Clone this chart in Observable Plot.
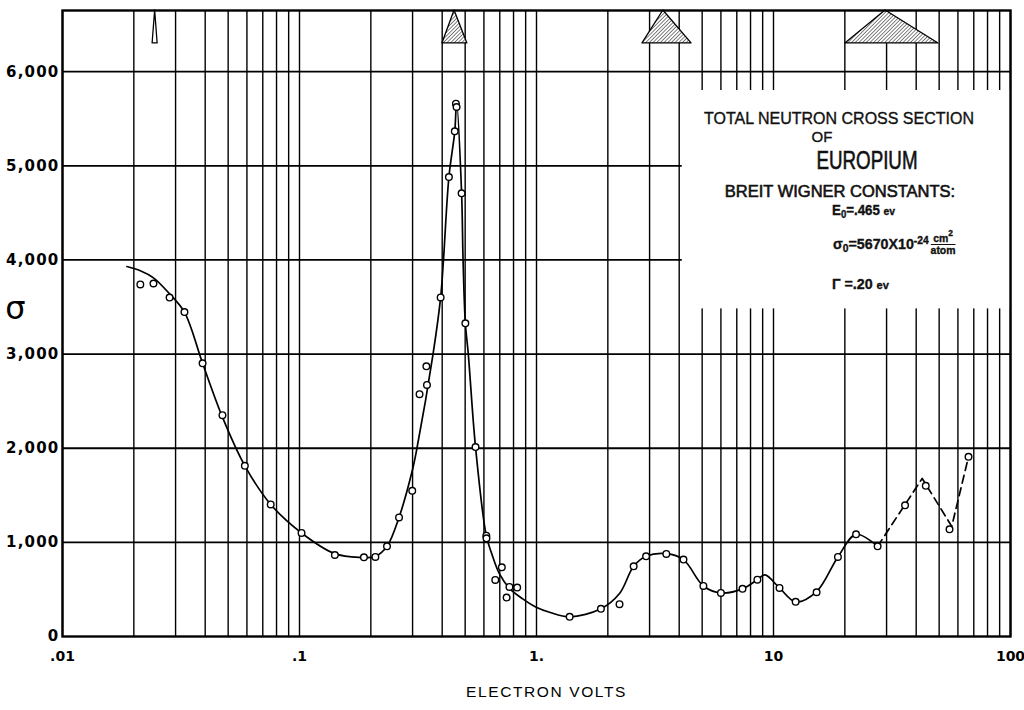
<!DOCTYPE html>
<html><head><meta charset="utf-8">
<script src="https://cdn.jsdelivr.net/npm/d3@7"></script>
<script src="https://cdn.jsdelivr.net/npm/@observablehq/plot@0.6"></script>
<style>
body{margin:0;background:#fff;}
#wrap{position:relative;width:1024px;height:710px;overflow:hidden;}
#note{position:absolute;left:0;top:0;width:1024px;height:710px;pointer-events:none;font-family:"Liberation Sans",sans-serif;color:#111;-webkit-text-stroke:0.35px #111;}
#note > div{position:absolute;white-space:nowrap;line-height:1;}
.ctr{transform:translateX(-50%);}
.eu{transform:translateX(-50%) scaleX(0.75);-webkit-text-stroke:0.6px #111;}
.cond{transform-origin:0 0;transform:scaleX(0.95);}
.sub{font-size:0.72em;position:relative;top:0.28em;}
.sup{font-size:0.72em;position:relative;top:-0.5em;}
.sm{font-size:0.78em;}
.frac{display:inline-block;vertical-align:top;position:relative;top:-3px;font-size:11px;line-height:1;text-align:center;margin-left:2px;}
.frac .num{display:block;border-bottom:1.5px solid #111;padding:0 1px 0 1px;}
.frac .num sup{font-size:0.8em;line-height:0;position:relative;top:-1px;}
.frac .den{display:block;}
</style></head><body>
<div id="wrap"><div id="chart"></div>
<div id="note">
 <div class="ctr" style="left:839px;top:111px;font-size:16px;">TOTAL NEUTRON CROSS SECTION</div>
 <div class="ctr" style="left:822px;top:129px;font-size:15px;">OF</div>
 <div class="eu" style="left:867px;top:148px;font-size:25px;">EUROPIUM</div>
 <div class="ctr" style="left:840px;top:183px;font-size:16.5px;-webkit-text-stroke:0.6px #111;">BREIT WIGNER CONSTANTS:</div>
 <div class="cond" style="left:832px;top:203px;font-size:14px;font-weight:bold;">E<span class="sub">0</span>=.465 <span class="sm">ev</span></div>
 <div class="cond" style="left:833px;top:236px;font-size:15px;font-weight:bold;">σ<span class="sub">0</span>=5670X10<span class="sup">-24</span><span class="frac"><span class="num">cm<sup>2</sup></span><span class="den">atom</span></span></div>
 <div class="cond" style="left:832px;top:276px;font-size:15px;font-weight:bold;">Γ =.20 <span class="sm">ev</span></div>
</div>
</div>
<script>
// ---- data ----
const pointEnergy = [0.0213,0.0242,0.0283,0.0327,0.039,0.0473,0.0588,0.0756,0.102,0.141,0.187,0.209,0.234,0.263,0.299,0.321,0.345,0.343,0.394,0.427,0.452,0.457,0.460,0.483,0.501,0.553,0.614,0.615,0.670,0.714,0.748,0.769,0.829,1.38,1.87,2.24,2.57,2.90,3.53,4.17,5.06,6.0,7.4,8.55,10.6,12.4,15.2,18.7,22.3,27.5,35.9,43.9,55.3,66.5];
const pointSigma  = [3740,3750,3600,3446,2902,2351,1813,1403,1100,866,841,845,958,1265,1548,2574,2672,2870,3602,4881,5366,5660,5625,4708,3327,2012,1071,1043,601,735,414,527,520,209,294,343,746,852,877,817,537,463,506,604,516,368,470,845,1085,958,1393,1601,1138,1909];

const curveEnergy = [0.0187,0.0213,0.0242,0.0283,0.0327,0.039,0.0473,0.0588,0.0756,0.102,0.141,0.18,0.209,0.234,0.263,0.299,0.313,0.366,0.394,0.405,0.427,0.452,0.460,0.483,0.490,0.501,0.5155,0.553,0.614,0.648,0.698,0.769,0.875,0.997,1.135,1.38,1.87,2.24,2.57,2.90,3.53,4.17,5.06,6.0,7.4,8.55,9.2,10.6,12.4,15.2,18.7,22.3,27.5];
const curveSigma  = [3930,3885,3810,3640,3446,2902,2330,1813,1403,1100,880,840,850,958,1265,1760,2000,3000,3602,4000,4881,5366,5670,4708,4000,3327,3000,2012,1071,877,665,512,400,311,258,209,294,456,746,852,880,817,537,463,506,604,654,516,368,477,845,1085,958];

const dashEnergy = [27.5,42.4,56.5,66.5];
const dashSigma  = [958,1679,1170,1909];

// resolution triangles (energy at left base, apex, right base)
const triLeft  = [0.0240,0.401,2.80,20.1];
const triApex  = [0.0246,0.451,3.43,29.7];
const triRight = [0.0252,0.511,4.51,49.7];

const xTickValues = [0.01,0.1,1,10,100];
const xTickLabels = [".01",".1","1.","10","100"];
const yTickValues = [0,1000,2000,3000,4000,5000,6000];
const yLabel = "σ";
const xLabel = "ELECTRON VOLTS";

// ---- build tables ----
const points = pointEnergy.map((e,i)=>({e, s: pointSigma[i]}));
const curve = curveEnergy.map((e,i)=>({e, s: curveSigma[i]}));
const dash = dashEnergy.map((e,i)=>({e, s: dashSigma[i]}));
const triBase = 6300, triTop = 6650;
const tris = [];
triApex.forEach((a,i)=>{
  tris.push({id:i, e:triLeft[i], s:triBase});
  tris.push({id:i, e:a, s:triTop});
  tris.push({id:i, e:triRight[i], s:triBase});
});
const gridX = [];
[0.01,0.1,1,10].forEach(d=>{ for(let k=1;k<=9;k++) gridX.push(d*k); });
gridX.push(100);
const noteBox = [{x1:4.12, x2:100, y1:3480, y2:5800}];

const plot = Plot.plot({
  width: 1024, height: 710,
  marginLeft: 62, marginRight: 14, marginTop: 10, marginBottom: 74,
  style: {fontFamily: "DejaVu Sans", fontSize: "15px", fontWeight: "bold", background: "white", color: "black"},
  x: {type: "log", domain: [0.01, 100]},
  y: {domain: [0, 6650]},
  marks: [
    Plot.ruleX(gridX, {stroke: "black", strokeWidth: 1.4}),
    Plot.ruleY(yTickValues.filter(v=>v>0), {stroke: "black", strokeWidth: 1.8}),
    Plot.rect(noteBox, {x1:"x1", x2:"x2", y1:"y1", y2:"y2", fill:"white"}),
    Plot.areaY(tris.filter(d=>d.id===0), {x:"e", y1: triBase, y2:"s", z:"id", fill:"white", stroke:"black", strokeWidth:1.3}),
    Plot.areaY(tris.filter(d=>d.id>0), {x:"e", y1: triBase, y2:"s", z:"id", fill:"url(#hatch)", stroke:"black", strokeWidth:1.3}),
    Plot.line(curve, {x:"e", y:"s", curve:"catmull-rom", stroke:"black", strokeWidth:1.7}),
    Plot.line(dash, {x:"e", y:"s", stroke:"black", strokeWidth:1.7, strokeDasharray:"8,5"}),
    Plot.dot(points, {x:"e", y:"s", r:3.3, fill:"white", stroke:"black", strokeWidth:1.4}),
    Plot.frame({stroke:"black", strokeWidth:2.4}),
    Plot.axisX({ticks: xTickValues, tickFormat: d => xTickLabels[xTickValues.indexOf(d)], tickSize: 0, tickPadding: 15, label: null, fontWeight: "bold", fontSize: 14}),
    Plot.axisY({ticks: yTickValues, tickFormat: d3.format(","), tickSize: 0, tickPadding: 3, label: null, fontWeight: "bold"}),
    Plot.text([yLabel], {frameAnchor:"left", dx:-47, dy:-15, textAnchor:"middle", fontSize:32, fontWeight:"normal", fontFamily:"DejaVu Sans"}),
    Plot.text([xLabel], {frameAnchor:"bottom", dx:10, dy:60, textAnchor:"middle", fontSize:15.5, fontWeight:"normal", fontFamily:"Liberation Sans"})
  ]
});

const svg = plot;
const defs = d3.select(svg).insert("defs", ":first-child");
const pat = defs.append("pattern").attr("id","hatch").attr("patternUnits","userSpaceOnUse")
  .attr("width",2.6).attr("height",2.6).attr("patternTransform","rotate(45)");
pat.append("rect").attr("width",2.6).attr("height",2.6).attr("fill","white");
pat.append("line").attr("x1",0).attr("y1",0).attr("x2",0).attr("y2",2.6).attr("stroke","black").attr("stroke-width",1);
// letter spacing for the lettered axis texts
d3.select(svg).selectAll("text").filter(function(){ return this.textContent === xLabel; })
  .attr("letter-spacing", "1.6px").style("-webkit-text-stroke", "0.3px");
d3.select(svg).selectAll('g[aria-label="y-axis tick label"] text').attr("letter-spacing", "1.2px");
document.getElementById("chart").appendChild(svg);
</script>
</body></html>
